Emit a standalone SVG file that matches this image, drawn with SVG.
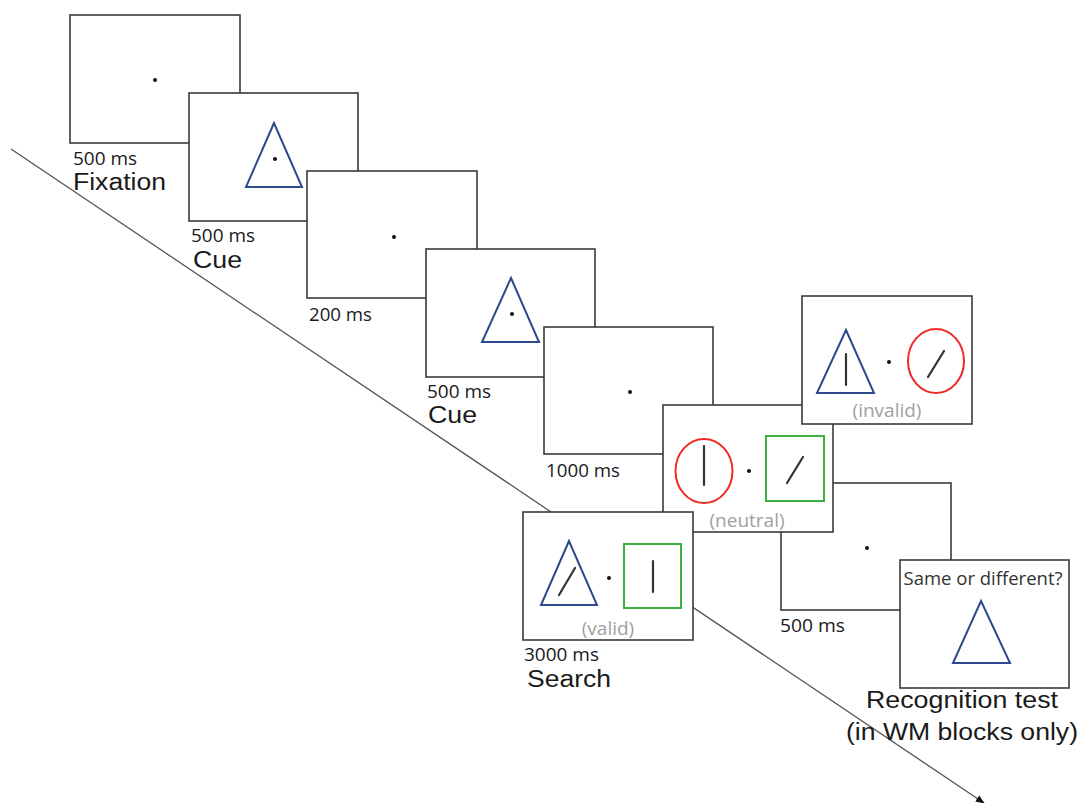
<svg xmlns="http://www.w3.org/2000/svg" width="1082" height="803" viewBox="0 0 1082 803">
  <style>
    .frame { fill: #ffffff; stroke: #3a3a3a; stroke-width: 1.6; }
    .dot { fill: #111111; }
    .tri { fill: none; stroke: #2e4a8e; stroke-width: 2; stroke-linejoin: miter; }
    .ring { fill: none; stroke: #ee2a24; stroke-width: 2; }
    .box { fill: none; stroke: #3cb043; stroke-width: 2; }
    .bar { stroke: #333333; stroke-width: 2.2; stroke-linecap: round; }
    .ms { font-family: "Open Sans", "Noto Sans", sans-serif; font-size: 17.5px; fill: #1a1a1a; }
    .cond { font-family: "Open Sans", "Noto Sans", sans-serif; font-size: 19px; fill: #a0a0a0; text-anchor: middle; }
    .ask { font-family: "Open Sans", "Noto Sans", sans-serif; font-size: 18px; fill: #333333; text-anchor: middle; }
    .phase { font-family: "Liberation Sans", Arial, sans-serif; font-size: 23.5px; fill: #1a1a1a; }
    .time-axis { stroke: #555555; stroke-width: 1.3; fill: none; }
  </style>
  <defs>
    <marker id="arrowhead" viewBox="0 0 10 10" refX="9" refY="5" markerWidth="7" markerHeight="7" orient="auto">
      <path d="M0,1 L10,5 L0,9 z" fill="#111111"/>
    </marker>
  </defs>

  <!-- time axis running behind the frames -->
  <g id="connectors">
    <line class="time-axis" x1="11" y1="149" x2="984" y2="803" marker-end="url(#arrowhead)"/>
  </g>

  <!-- fixation -->
  <g id="fixation">
    <rect class="frame" x="70" y="15" width="170" height="128"/>
    <circle class="dot" cx="155" cy="80" r="2"/>
    <text class="ms" x="73" y="165" textLength="64" lengthAdjust="spacingAndGlyphs">500 ms</text>
    <text class="phase" x="73" y="190" textLength="93" lengthAdjust="spacingAndGlyphs">Fixation</text>
  </g>

  <!-- first cue -->
  <g id="cue1">
    <rect class="frame" x="189" y="93" width="169" height="128"/>
    <polygon class="tri" points="274,123 246,187 302,187"/>
    <circle class="dot" cx="275" cy="159" r="2"/>
    <text class="ms" x="191" y="242" textLength="64" lengthAdjust="spacingAndGlyphs">500 ms</text>
    <text class="phase" x="193" y="268" textLength="49" lengthAdjust="spacingAndGlyphs">Cue</text>
  </g>

  <!-- blank interval -->
  <g id="isi1">
    <rect class="frame" x="307" y="171" width="170" height="127"/>
    <circle class="dot" cx="394" cy="237" r="2"/>
    <text class="ms" x="309" y="321" textLength="63" lengthAdjust="spacingAndGlyphs">200 ms</text>
  </g>

  <!-- second cue -->
  <g id="cue2">
    <rect class="frame" x="426" y="249" width="169" height="128"/>
    <polygon class="tri" points="511,278 482,342 539,342"/>
    <circle class="dot" cx="512" cy="314" r="2"/>
    <text class="ms" x="427" y="398" textLength="64" lengthAdjust="spacingAndGlyphs">500 ms</text>
    <text class="phase" x="428" y="423" textLength="49" lengthAdjust="spacingAndGlyphs">Cue</text>
  </g>

  <!-- delay -->
  <g id="delay">
    <rect class="frame" x="544" y="327" width="169" height="127"/>
    <circle class="dot" cx="630" cy="392" r="2"/>
    <text class="ms" x="546" y="477" textLength="74" lengthAdjust="spacingAndGlyphs">1000 ms</text>
  </g>

  <!-- post-search blank -->
  <g id="isi2">
    <rect class="frame" x="781" y="483" width="170" height="127"/>
    <circle class="dot" cx="867" cy="548" r="2"/>
    <text class="ms" x="780" y="632" textLength="65" lengthAdjust="spacingAndGlyphs">500 ms</text>
  </g>

  <!-- neutral search display -->
  <g id="search-neutral">
    <rect class="frame" x="663" y="405" width="170" height="127"/>
    <ellipse class="ring" cx="704" cy="471" rx="28.5" ry="32"/>
    <line class="bar" x1="704" y1="446" x2="704" y2="485"/>
    <circle class="dot" cx="749" cy="471" r="2"/>
    <rect class="box" x="766" y="436" width="58" height="65"/>
    <line class="bar" x1="787" y1="483" x2="803" y2="457"/>
    <text class="cond" x="747" y="527">(neutral)</text>
  </g>

  <!-- invalid search display -->
  <g id="search-invalid">
    <rect class="frame" x="802" y="296" width="170" height="128"/>
    <polygon class="tri" points="846,330 817,393 874,393"/>
    <line class="bar" x1="846" y1="354" x2="846" y2="385"/>
    <circle class="dot" cx="889" cy="362" r="2"/>
    <ellipse class="ring" cx="936" cy="361" rx="28" ry="32"/>
    <line class="bar" x1="928" y1="377" x2="944" y2="351"/>
    <text class="cond" x="887" y="417">(invalid)</text>
  </g>

  <!-- valid search display -->
  <g id="search-valid">
    <rect class="frame" x="523" y="512" width="170" height="128"/>
    <polygon class="tri" points="569,541 541,605 597,605"/>
    <line class="bar" x1="559" y1="595" x2="575" y2="568"/>
    <circle class="dot" cx="609" cy="578" r="2"/>
    <rect class="box" x="624" y="544" width="57" height="64"/>
    <line class="bar" x1="653" y1="561" x2="653" y2="592"/>
    <text class="cond" x="608" y="635">(valid)</text>
    <text class="ms" x="524" y="661" textLength="75" lengthAdjust="spacingAndGlyphs">3000 ms</text>
    <text class="phase" x="527" y="687" textLength="84" lengthAdjust="spacingAndGlyphs">Search</text>
  </g>

  <!-- recognition probe -->
  <g id="recognition">
    <rect class="frame" x="900" y="560" width="169" height="128"/>
    <text class="ask" x="983" y="585" textLength="159" lengthAdjust="spacingAndGlyphs">Same or different?</text>
    <polygon class="tri" points="981,601 953,663 1010,663"/>
    <text class="phase" x="962" y="708" text-anchor="middle" textLength="192" lengthAdjust="spacingAndGlyphs">Recognition test</text>
    <text class="phase" x="962" y="740" text-anchor="middle" textLength="232" lengthAdjust="spacingAndGlyphs">(in WM blocks only)</text>
  </g>
</svg>
